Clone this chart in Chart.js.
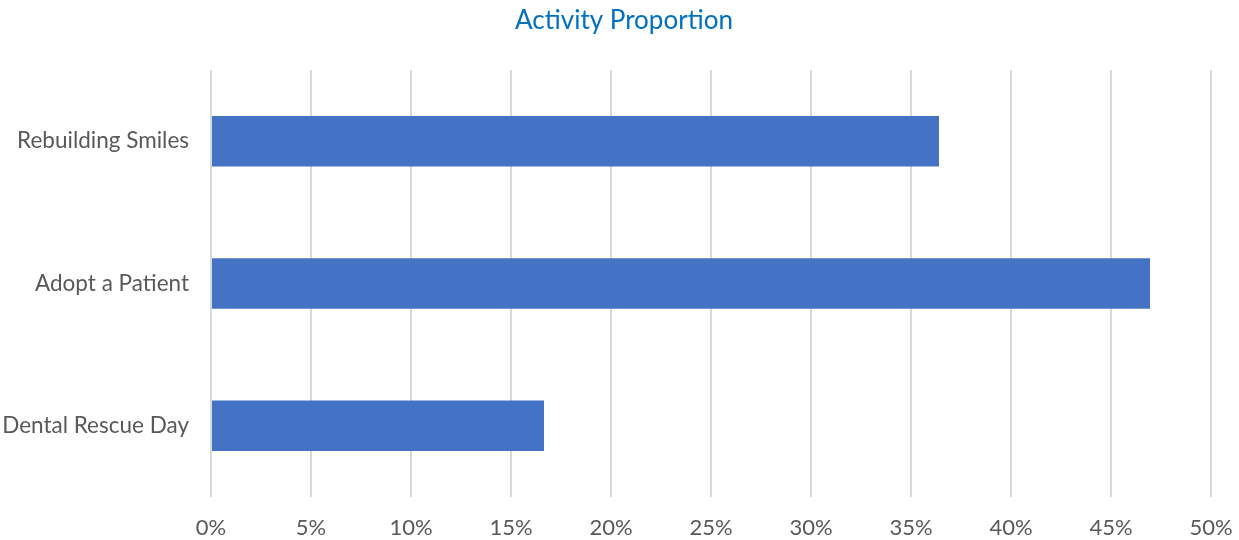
<!DOCTYPE html>
<html>
<head>
<meta charset="utf-8">
<script src="https://cdn.jsdelivr.net/npm/chart.js@4"></script>
<style>
html,body{margin:0;padding:0;background:#fff;}
#wrap{width:1239px;height:540px;position:relative;}
</style>
</head>
<body>
<div id="wrap"><canvas id="c" width="1239" height="540"></canvas></div>
<script>
const categories = ["Rebuilding Smiles", "Adopt a Patient", "Dental Rescue Day"];
const proportions = [36.4, 46.95, 16.65];
const xTicks = [0, 5, 10, 15, 20, 25, 30, 35, 40, 45, 50];
const chartTitle = "Activity Proportion";

const FONT = "Lato, 'Open Sans', sans-serif";

const titlePlugin = {
  id: 'offsetTitle',
  afterDraw(chart) {
    const ctx = chart.ctx;
    ctx.save();
    ctx.font = "26px " + FONT;
    ctx.fillStyle = '#0070C0';
    ctx.textAlign = 'center';
    ctx.textBaseline = 'middle';
    ctx.fillText(chartTitle, 624, 21);
    ctx.restore();
  }
};

new Chart(document.getElementById('c'), {
  type: 'bar',
  data: {
    labels: categories,
    datasets: [{
      data: proportions,
      backgroundColor: '#4472C4',
      borderWidth: 0,
      barPercentage: 0.355,
      categoryPercentage: 1.0
    }]
  },
  plugins: [titlePlugin],
  options: {
    indexAxis: 'y',
    responsive: false,
    animation: false,
    devicePixelRatio: 1,
    layout: { padding: { left: 0, right: 28, top: 70, bottom: 0 } },
    plugins: {
      legend: { display: false },
      tooltip: { enabled: false },
      title: { display: false }
    },
    scales: {
      x: {
        min: 0,
        max: 50,
        afterBuildTicks: (s) => { s.ticks = xTicks.map(v => ({ value: v })); },
        ticks: {
          callback: (v) => v + '%',
          color: '#595959',
          font: { family: FONT, size: 22 },
          padding: 18,
          maxRotation: 0
        },
        grid: { color: '#D9D9D9', lineWidth: 2, drawTicks: false },
        border: { display: false },
        afterFit: (s) => { s.height = 43; s.paddingLeft = 0; s.paddingRight = 0; }
      },
      y: {
        ticks: {
          color: '#595959',
          font: { family: FONT, size: 22.5 },
          padding: 22
        },
        grid: { display: false, drawTicks: false },
        border: { display: false },
        afterFit: (s) => { s.width = 211; s.paddingTop = 0; s.paddingBottom = 0; }
      }
    }
  }
});
</script>
</body>
</html>
